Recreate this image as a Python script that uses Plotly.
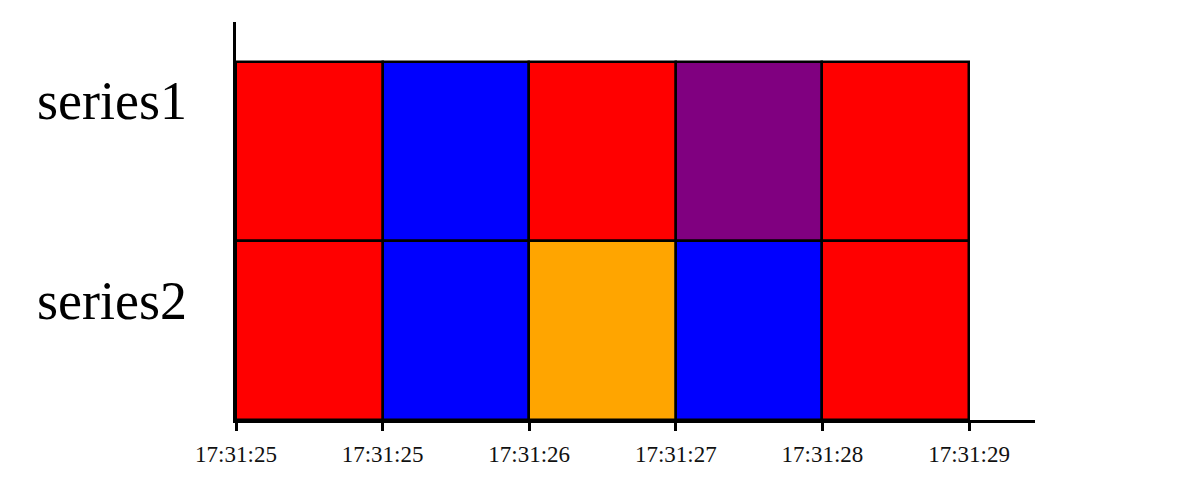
import plotly.graph_objects as go

series = ["series1", "series2"]
tick_labels = ["17:31:25", "17:31:25", "17:31:26", "17:31:27", "17:31:28", "17:31:29"]
colors_series1 = ["red", "blue", "red", "purple", "red"]
colors_series2 = ["red", "blue", "orange", "blue", "red"]

color_rows = {"series1": colors_series1, "series2": colors_series2}
row_base = {"series1": 1, "series2": 0}
label_pos = {"series1": 1.78, "series2": 0.665}

fig = go.Figure()
for name in series:
    cols = color_rows[name]
    fig.add_trace(go.Bar(
        x=[i + 0.5 for i in range(len(cols))],
        y=[1] * len(cols),
        base=[row_base[name]] * len(cols),
        width=1,
        marker=dict(color=cols, line=dict(color="black", width=2.5)),
        name=name,
        showlegend=False,
        hoverinfo="skip",
    ))

for name in series:
    fig.add_annotation(
        x=-0.155, xref="paper", y=label_pos[name], yref="y",
        text=name, showarrow=False, xanchor="center", yanchor="middle",
        font=dict(family="Liberation Serif", size=54, color="black"),
    )

fig.update_layout(
    width=1186, height=503,
    margin=dict(l=228, r=159, t=14, b=91),
    paper_bgcolor="white", plot_bgcolor="white",
    barmode="overlay", bargap=0,
    xaxis=dict(
        range=[0, 5.45], tickmode="array",
        tickvals=list(range(len(tick_labels))), ticktext=tick_labels,
        showgrid=False, zeroline=False, showline=True, linecolor="black", linewidth=2.5,
        ticks="outside", ticklen=8, tickwidth=2.5, tickcolor="black",
        ticklabelstandoff=4,
        tickfont=dict(family="Liberation Serif", size=23, color="#111"),
    ),
    yaxis=dict(
        range=[0, 2.223], showticklabels=False, showgrid=False, zeroline=False,
        showline=True, linecolor="black", linewidth=2.5, ticks="",
    ),
)

fig.write_html("out.html")
